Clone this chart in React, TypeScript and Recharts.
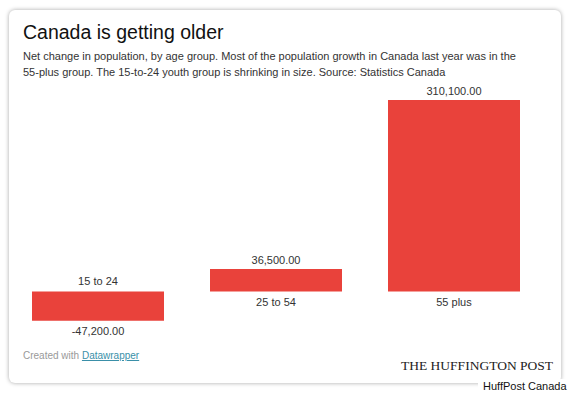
import React from 'react';
import { BarChart, Bar, XAxis, YAxis, LabelList } from 'recharts';

const ageGroups = ['15 to 24', '25 to 54', '55 plus'];
const netChange = [-47200, 36500, 310100];

const chartData = ageGroups.map((name, i) => ({ name, value: netChange[i] }));

const FONT = '"Liberation Sans", Arial, Helvetica, sans-serif';
const BAR_COLOR = '#E9423B';

const fmt = (v: number) =>
    v.toLocaleString('en-US', { minimumFractionDigits: 2, maximumFractionDigits: 2 });

// pull the rect out of whatever recharts hands the label
const box = (props: any) => {
    const vb = props.viewBox || {};
    const x = props.x ?? vb.x;
    const y = props.y ?? vb.y;
    const w = props.width ?? vb.width;
    const h = props.height ?? vb.height;
    return { x, w, top: Math.min(y, y + h), bottom: Math.max(y, y + h) };
};

const ValueLabel = (props: any) => {
    const { x, w, top, bottom } = box(props);
    const v = netChange[props.index];
    const cy = v >= 0 ? top - 9 : bottom + 10;
    return (
        <text x={x + w / 2} y={cy} textAnchor="middle" dominantBaseline="central"
            fontFamily={FONT} fontSize={11} fill="#333">
            {fmt(v)}
        </text>
    );
};

const NameLabel = (props: any) => {
    const { x, w, top, bottom } = box(props);
    const v = netChange[props.index];
    const cy = v >= 0 ? bottom + 11 : top - 10;
    return (
        <text x={x + w / 2} y={cy} textAnchor="middle" dominantBaseline="central"
            fontFamily={FONT} fontSize={11} fill="#333">
            {ageGroups[props.index]}
        </text>
    );
};

export default function App() {
    return (
        <div style={{ position: 'absolute', left: 0, top: 0, width: 570, height: 393, background: '#fff', overflow: 'hidden', fontFamily: FONT }}>
            {/* card */}
            <div style={{
                position: 'absolute', left: 9, top: 10, width: 552, height: 373,
                background: '#fff', borderRadius: 6,
                boxShadow: '0 0 4px rgba(0,0,0,0.35)'
            }} />

            <div style={{ position: 'absolute', left: 23, top: 21, fontSize: 19.5, color: '#111', whiteSpace: 'nowrap' }}>
                Canada is getting older
            </div>
            <div style={{ position: 'absolute', left: 23, top: 48, fontSize: 11, lineHeight: '16px', color: '#333', whiteSpace: 'nowrap' }}>
                Net change in population, by age group. Most of the population growth in Canada last year was in the
                <br />
                55-plus group. The 15-to-24 youth group is shrinking in size. Source: Statistics Canada
            </div>

            <div style={{ position: 'absolute', left: 0, top: 0 }}>
                <BarChart width={570} height={393} data={chartData}
                    margin={{ top: 87.71, right: 27, left: 9, bottom: 39.75 }}>
                    <XAxis dataKey="name" hide />
                    <YAxis hide domain={[-100000, 330000]} allowDataOverflow />
                    <Bar dataKey="value" fill={BAR_COLOR} barSize={132} isAnimationActive={false}>
                        <LabelList dataKey="value" content={ValueLabel} />
                        <LabelList dataKey="name" content={NameLabel} />
                    </Bar>
                </BarChart>
            </div>

            <div style={{ position: 'absolute', left: 23, top: 350, fontSize: 10, color: '#999', whiteSpace: 'nowrap' }}>
                Created with <span style={{ color: '#3a8fa8', textDecoration: 'underline' }}>Datawrapper</span>
            </div>
            <div style={{
                position: 'absolute', left: 401, top: 358, fontSize: 13.5, color: '#222', whiteSpace: 'nowrap',
                fontFamily: '"Liberation Serif", "Times New Roman", serif'
            }}>
                THE HUFFINGTON POST
            </div>
            <div style={{
                position: 'absolute', left: 478, top: 379, width: 92, height: 14, background: '#fff',
                fontSize: 11, color: '#111', lineHeight: '14px', paddingLeft: 5, whiteSpace: 'nowrap'
            }}>
                HuffPost Canada
            </div>
        </div>
    );
}
